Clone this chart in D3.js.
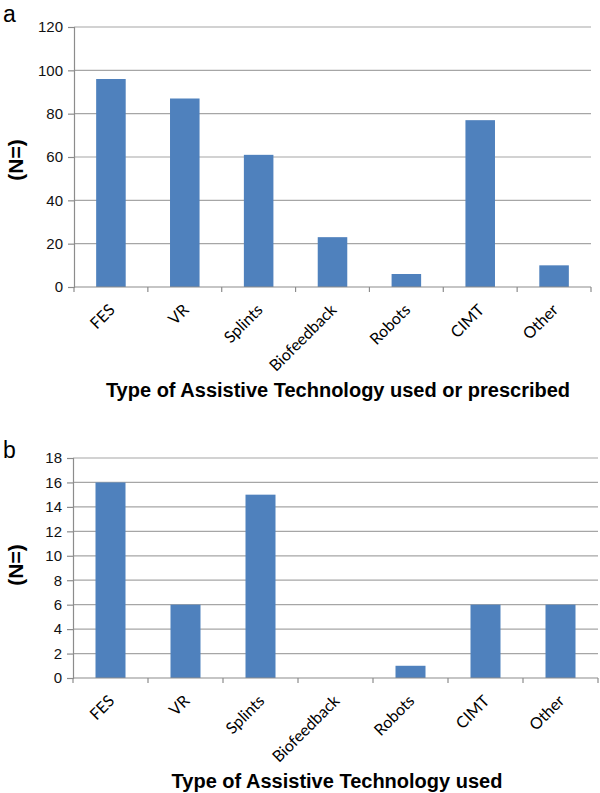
<!DOCTYPE html>
<html>
<head>
<meta charset="utf-8">
<script src="https://cdn.jsdelivr.net/npm/d3@7"></script>
<style>
  html, body { margin: 0; padding: 0; background: #fff; }
  svg { display: block; font-family: "Liberation Sans", Arial, sans-serif; }
</style>
</head>
<body>
<svg id="chart" width="600" height="793"></svg>
<script>
const categories = ["FES", "VR", "Splints", "Biofeedback", "Robots", "CIMT", "Other"];
const valuesA = [96, 87, 61, 23, 6, 77, 10];
const valuesB = [16, 6, 15, 0, 1, 6, 6];
const ticksA = [0, 20, 40, 60, 80, 100, 120];
const ticksB = [0, 2, 4, 6, 8, 10, 12, 14, 16, 18];
const titleA = "Type of Assistive Technology used or prescribed";
const titleB = "Type of Assistive Technology used";

const svg = d3.select("#chart");
const barColor = "#4F81BD";
const gridColor = "#A6A6A6";
const axisColor = "#8C8C8C";

function drawPanel(cfg) {
  const g = svg.append("g");
  const x = d3.scaleBand().domain(categories).range([cfg.x0, cfg.x1]).paddingInner(0.6).paddingOuter(0.3);
  const xb = d3.scaleBand().domain(categories).range([cfg.x0, cfg.x1]);
  const y = d3.scaleLinear().domain([0, cfg.max]).range([cfg.y0, cfg.yTop]);

  // gridlines
  g.selectAll("line.grid").data(cfg.ticks.filter(t => t > 0)).enter().append("line")
    .attr("x1", cfg.x0).attr("x2", cfg.x1)
    .attr("y1", d => y(d)).attr("y2", d => y(d))
    .attr("stroke", gridColor).attr("stroke-width", 1.2);

  // bars
  g.selectAll("rect.bar").data(categories).enter().append("rect")
    .attr("x", d => x(d))
    .attr("width", x.bandwidth())
    .attr("y", (d, i) => y(cfg.values[i]))
    .attr("height", (d, i) => cfg.y0 - y(cfg.values[i]))
    .attr("fill", barColor);

  // y axis
  const yAxis = d3.axisLeft(y).tickValues(cfg.ticks).tickSize(6).tickPadding(5);
  const ya = g.append("g").attr("transform", `translate(${cfg.x0},0)`).call(yAxis);
  ya.select(".domain").attr("stroke", axisColor).attr("stroke-width", 1.2);
  ya.selectAll(".tick line").attr("stroke", axisColor).attr("stroke-width", 1.2);
  ya.selectAll(".tick text").attr("fill", "#111").style("font-size", "15px")
    .style("font-family", "'Liberation Sans', Arial, sans-serif");

  // x axis
  const boundaries = categories.map(c => xb(c)).concat([cfg.x1]);
  g.append("line").attr("x1", cfg.x0).attr("x2", cfg.x1).attr("y1", cfg.y0).attr("y2", cfg.y0)
    .attr("stroke", axisColor).attr("stroke-width", 1.2);
  g.selectAll("line.xt").data(boundaries).enter().append("line")
    .attr("x1", d => d).attr("x2", d => d).attr("y1", cfg.y0).attr("y2", cfg.y0 + 5)
    .attr("stroke", axisColor).attr("stroke-width", 1.2);

  // x labels
  g.selectAll("text.xl").data(categories).enter().append("text")
    .attr("transform", d => `translate(${xb(d) + xb.bandwidth() / 2 + 1},${cfg.y0 + 20}) rotate(-45)`)
    .attr("text-anchor", "end")
    .attr("dy", "0.35em")
    .style("font-size", "16px")
    .style("font-family", "Lato, 'Open Sans', sans-serif")
    .attr("fill", "#000")
    .text(d => d);

  // y title
  g.append("text")
    .attr("transform", `translate(${cfg.yTitleX},${cfg.yTitleY}) rotate(-90)`)
    .attr("text-anchor", "middle")
    .attr("dy", "0.35em")
    .style("font-size", "21px").style("font-weight", "bold")
    .attr("fill", "#000")
    .text("(N=)");

  // x title
  g.append("text")
    .attr("x", cfg.xTitleX).attr("y", cfg.xTitleY)
    .attr("text-anchor", "middle")
    .style("font-size", "20px").style("font-weight", "bold")
    .attr("fill", "#000")
    .text(cfg.title);

  // panel letter
  g.append("text")
    .attr("x", 3).attr("y", cfg.letterY)
    .style("font-size", "23px")
    .attr("fill", "#000")
    .text(cfg.letter);
}

drawPanel({
  x0: 74, x1: 591, y0: 287, yTop: 27, max: 120, ticks: ticksA, values: valuesA,
  yTitleX: 16, yTitleY: 160, xTitleX: 338, xTitleY: 397, title: titleA, letter: "a", letterY: 22
});
drawPanel({
  x0: 73, x1: 598, y0: 678, yTop: 458, max: 18, ticks: ticksB, values: valuesB,
  yTitleX: 16, yTitleY: 565, xTitleX: 337, xTitleY: 788, title: titleB, letter: "b", letterY: 458
});
</script>
</body>
</html>
